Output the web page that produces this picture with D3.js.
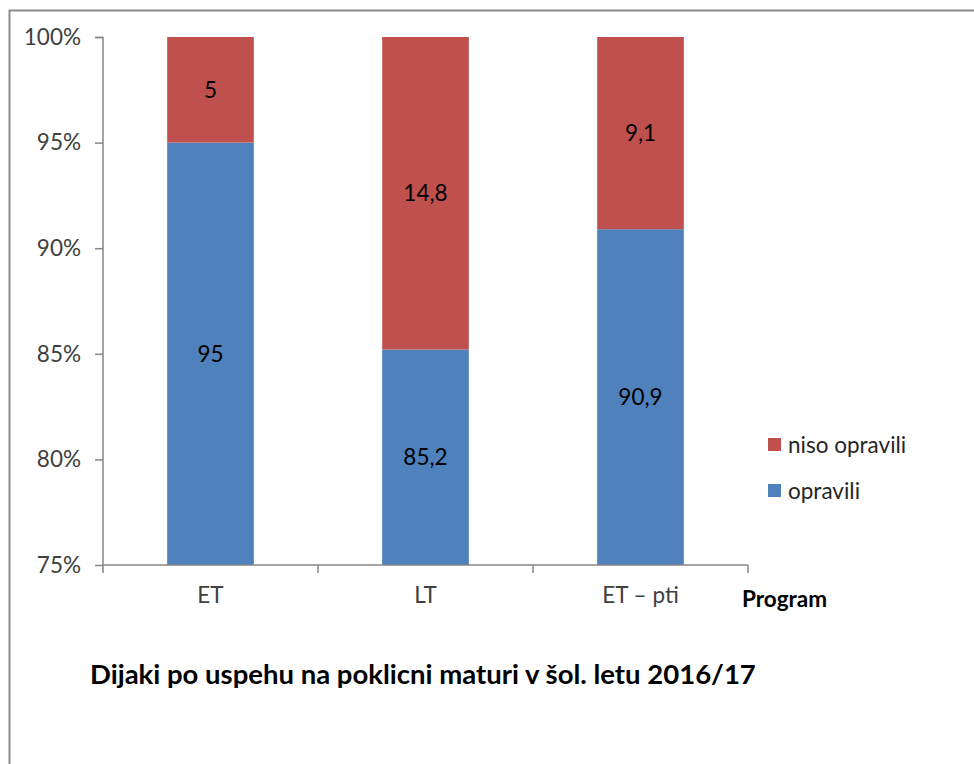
<!DOCTYPE html>
<html><head><meta charset="utf-8">
<script src="https://cdn.jsdelivr.net/npm/d3@7"></script>
<style>body{margin:0;background:#fff}svg{display:block}text{font-family:Lato,"Open Sans",sans-serif}</style>
</head><body><svg id="c" width="974" height="764"></svg>
<script>
const categories = ["ET", "LT", "ET – pti"];
const opravili = [95, 85.2, 90.9];
const nisoOpravili = [5, 14.8, 9.1];
const seriesNames = ["opravili", "niso opravili"];
const yTicks = [75, 80, 85, 90, 95, 100];
const colors = ["#4f81bd", "#c0504d"];

const svg = d3.select("#c");
// outer border
svg.append("path").attr("d", "M9.5,764 V10.5 H974").attr("fill", "none").attr("stroke", "#8c8c8c").attr("stroke-width", 2);

const x = d3.scaleBand().domain(categories).range([103, 748]).paddingInner(0.597).paddingOuter(0.2985);
const y = d3.scaleLinear().domain([75, 100]).range([565, 37]);

const fmt = v => String(v).replace(".", ",");
const data = categories.map((c, i) => ({c, a: opravili[i], b: nisoOpravili[i]}));
const FS = 22.5;

const g = svg.append("g");
// bars
data.forEach(d => {
  const segs = [{lo: 0, hi: d.a, v: d.a, col: colors[0]}, {lo: d.a, hi: d.a + d.b, v: d.b, col: colors[1]}];
  segs.forEach(s => {
    const top = y(Math.min(s.hi, 100)), bot = y(Math.max(s.lo, 75));
    g.append("rect").attr("x", x(d.c)).attr("width", x.bandwidth())
      .attr("y", top).attr("height", bot - top).attr("fill", s.col);
    g.append("text").attr("x", x(d.c) + x.bandwidth() / 2).attr("y", (top + bot) / 2)
      .attr("dy", "0.35em").attr("text-anchor", "middle").attr("font-size", FS).attr("fill", "#000")
      .text(fmt(s.v));
  });
});

// y axis
const yAx = svg.append("g").attr("transform", "translate(103,0)")
  .call(d3.axisLeft(y).tickValues(yTicks).tickSize(8).tickPadding(14).tickFormat(d => d + "%"));
yAx.select(".domain").attr("stroke", "#868686").attr("stroke-width", 1.5).attr("d", "M-8,37.5H0V565");
yAx.selectAll(".tick line").attr("stroke", "#868686").attr("stroke-width", 1.5);
yAx.selectAll("text").attr("font-size", FS).attr("fill", "#404040").attr("font-family", "Lato, sans-serif");

// x axis
const xAx = svg.append("g").attr("transform", "translate(0,565)")
  .call(d3.axisBottom(x).tickSize(0).tickPadding(22));
xAx.select(".domain").attr("stroke", "#868686").attr("stroke-width", 1.5).attr("d", "M103,0H748");
xAx.selectAll("text").attr("font-size", FS).attr("fill", "#404040").attr("font-family", "Lato, sans-serif");
const bounds = [103, ...categories.slice(1).map(c => x(c) - x.step() * x.paddingInner() / 2), 748];
xAx.selectAll(".sep").data(bounds).join("line").attr("class", "sep")
  .attr("x1", d => d).attr("x2", d => d).attr("y1", 0).attr("y2", 8)
  .attr("stroke", "#868686").attr("stroke-width", 1.5);

svg.append("text").attr("x", 742).attr("y", 607).attr("font-size", FS).attr("font-weight", "bold")
  .attr("fill", "#000").text("Program");

// legend
const leg = svg.append("g");
[{n: seriesNames[1], col: colors[1], y: 438}, {n: seriesNames[0], col: colors[0], y: 484}].forEach(l => {
  leg.append("rect").attr("x", 768).attr("y", l.y).attr("width", 13).attr("height", 13).attr("fill", l.col);
  leg.append("text").attr("x", 788).attr("y", l.y + 7).attr("dy", "0.35em").attr("font-size", FS)
    .attr("fill", "#262626").text(l.n);
});

svg.append("text").attr("x", 90).attr("y", 684).attr("font-size", 27.5).attr("font-weight", "bold")
  .attr("fill", "#000").text("Dijaki po uspehu na poklicni maturi v šol. letu 2016/17");
</script></body></html>
